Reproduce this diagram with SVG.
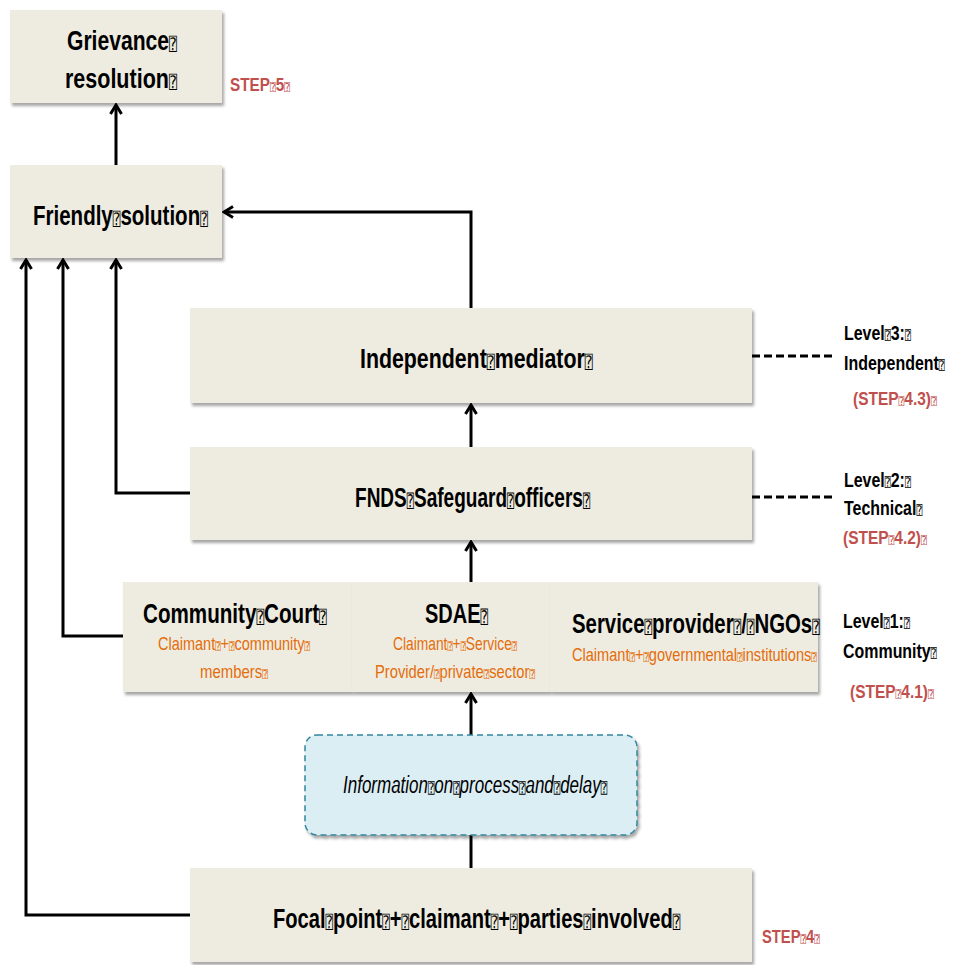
<svg xmlns="http://www.w3.org/2000/svg" width="953" height="965" viewBox="0 0 953 965">
<style>
.box{fill:#EEECE1;filter:url(#sh)}
.lbl{font-family:"Liberation Sans",Arial,sans-serif;font-weight:bold;fill:#000}
.big{font-size:28px}
.mid{font-size:21px}
.org{font-family:"Liberation Sans",Arial,sans-serif;font-size:18px;fill:#E46C0A}
.red{font-family:"Liberation Sans",Arial,sans-serif;font-weight:bold;font-size:18px;fill:#C0504D}
.ita{font-family:"Liberation Sans",Arial,sans-serif;font-style:italic;font-size:23px;fill:#000}
.tf{font-family:"DejaVu Sans Mono","DejaVu Sans",monospace;font-weight:normal;font-style:normal;font-size:0.62em}
.con{fill:none;stroke:#000;stroke-width:3}
.dash{fill:none;stroke:#000;stroke-width:3;stroke-dasharray:8 4}
</style>
<defs>
<filter id="sh" x="-5%" y="-5%" width="112%" height="120%">
<feDropShadow dx="2" dy="3" stdDeviation="1.5" flood-color="#000" flood-opacity="0.35"/>
</filter>
<marker id="ah" markerUnits="userSpaceOnUse" viewBox="0 0 14 14" markerWidth="14" markerHeight="14" refX="12" refY="7" orient="auto">
<path d="M3,1.5 L12,7 L3,12.5" fill="none" stroke="#000" stroke-width="3"/>
</marker>
</defs>

<g id="connectors">
<path class="con" d="M116,165 V105" marker-end="url(#ah)"/>
<path class="con" d="M471,308 V212 H224" marker-end="url(#ah)"/>
<path class="con" d="M471,447 V405" marker-end="url(#ah)"/>
<path class="con" d="M471,582 V542" marker-end="url(#ah)"/>
<path class="con" d="M471,735 V694" marker-end="url(#ah)"/>
<path class="con" d="M471,868 V835"/>
<path class="con" d="M190,493 H116 V260" marker-end="url(#ah)"/>
<path class="con" d="M123,636 H63 V260" marker-end="url(#ah)"/>
<path class="con" d="M190,915 H26 V260" marker-end="url(#ah)"/>
<path class="dash" d="M752,356 H833"/>
<path class="dash" d="M752,497 H833"/>
</g>

<g id="grievance">
<rect class="box" x="10" y="10" width="212" height="93"/>
<text class="lbl big" transform="translate(67 50) scale(0.754 1)">Grievance<tspan class="tf">⍰</tspan></text>
<text class="lbl big" transform="translate(65 88) scale(0.768 1)">resolution<tspan class="tf">⍰</tspan></text>
</g>
<g id="step5">
<text class="red" transform="translate(230 91) scale(0.85 1)">STEP<tspan class="tf">⍰</tspan>5<tspan class="tf">⍰</tspan></text>
</g>

<g id="friendly">
<rect class="box" x="10" y="165" width="212" height="93"/>
<text class="lbl big" transform="translate(33 225) scale(0.733 1)">Friendly<tspan class="tf">⍰</tspan>solution<tspan class="tf">⍰</tspan></text>
</g>

<g id="mediator">
<rect class="box" x="190" y="308" width="562" height="95"/>
<text class="lbl big" transform="translate(360 368) scale(0.762 1)">Independent<tspan class="tf">⍰</tspan>mediator<tspan class="tf">⍰</tspan></text>
</g>
<g id="level3">
<text class="lbl mid" transform="translate(844 340) scale(0.76 1)">Level<tspan class="tf">⍰</tspan>3:<tspan class="tf">⍰</tspan></text>
<text class="lbl mid" transform="translate(844 370) scale(0.76 1)">Independent<tspan class="tf">⍰</tspan></text>
<text class="red" transform="translate(853 405) scale(0.86 1)">(STEP<tspan class="tf">⍰</tspan>4.3)<tspan class="tf">⍰</tspan></text>
</g>

<g id="fnds">
<rect class="box" x="190" y="447" width="562" height="93"/>
<text class="lbl big" transform="translate(355 507) scale(0.68 1)">FNDS<tspan class="tf">⍰</tspan>Safeguard<tspan class="tf">⍰</tspan>officers<tspan class="tf">⍰</tspan></text>
</g>
<g id="level2">
<text class="lbl mid" transform="translate(844 487) scale(0.76 1)">Level<tspan class="tf">⍰</tspan>2:<tspan class="tf">⍰</tspan></text>
<text class="lbl mid" transform="translate(844 515) scale(0.76 1)">Technical<tspan class="tf">⍰</tspan></text>
<text class="red" transform="translate(843 544) scale(0.86 1)">(STEP<tspan class="tf">⍰</tspan>4.2)<tspan class="tf">⍰</tspan></text>
</g>

<g id="community-court">
<rect class="box" x="123" y="582" width="229" height="110"/>
<text class="lbl big" transform="translate(143 623) scale(0.737 1)">Community<tspan class="tf">⍰</tspan>Court<tspan class="tf">⍰</tspan></text>
<text class="org" transform="translate(158 650) scale(0.806 1)">Claimant<tspan class="tf">⍰</tspan>+<tspan class="tf">⍰</tspan>community<tspan class="tf">⍰</tspan></text>
<text class="org" transform="translate(200 678) scale(0.83 1)">members<tspan class="tf">⍰</tspan></text>
</g>
<g id="sdae">
<rect class="box" x="352" y="582" width="198" height="110"/>
<text class="lbl big" transform="translate(425 623) scale(0.714 1)">SDAE<tspan class="tf">⍰</tspan></text>
<text class="org" transform="translate(393 650) scale(0.767 1)">Claimant<tspan class="tf">⍰</tspan>+<tspan class="tf">⍰</tspan>Service<tspan class="tf">⍰</tspan></text>
<text class="org" transform="translate(375 678) scale(0.82 1)">Provider/<tspan class="tf">⍰</tspan>private<tspan class="tf">⍰</tspan>sector<tspan class="tf">⍰</tspan></text>
</g>
<g id="service-provider">
<rect class="box" x="550" y="582" width="268" height="110"/>
<text class="lbl big" transform="translate(572 633) scale(0.728 1)">Service<tspan class="tf">⍰</tspan>provider<tspan class="tf">⍰</tspan>/<tspan class="tf">⍰</tspan>NGOs<tspan class="tf">⍰</tspan></text>
<text class="org" transform="translate(572 661) scale(0.81 1)">Claimant<tspan class="tf">⍰</tspan>+<tspan class="tf">⍰</tspan>governmental<tspan class="tf">⍰</tspan>institutions<tspan class="tf">⍰</tspan></text>
</g>
<g id="level1">
<text class="lbl mid" transform="translate(843 628) scale(0.76 1)">Level<tspan class="tf">⍰</tspan>1:<tspan class="tf">⍰</tspan></text>
<text class="lbl mid" transform="translate(843 658) scale(0.76 1)">Community<tspan class="tf">⍰</tspan></text>
<text class="red" transform="translate(850 698) scale(0.86 1)">(STEP<tspan class="tf">⍰</tspan>4.1)<tspan class="tf">⍰</tspan></text>
</g>

<g id="information">
<rect x="305" y="735" width="332" height="100" rx="12" fill="#DBEEF4" stroke="#31859C" stroke-width="1.5" stroke-dasharray="6 4" filter="url(#sh)"/>
<text class="ita" transform="translate(343 793) scale(0.739 1)">Information<tspan class="tf">⍰</tspan>on<tspan class="tf">⍰</tspan>process<tspan class="tf">⍰</tspan>and<tspan class="tf">⍰</tspan>delay<tspan class="tf">⍰</tspan></text>
</g>

<g id="focal-point">
<rect class="box" x="190" y="868" width="562" height="94"/>
<text class="lbl big" transform="translate(273 928) scale(0.719 1)">Focal<tspan class="tf">⍰</tspan>point<tspan class="tf">⍰</tspan>+<tspan class="tf">⍰</tspan>claimant<tspan class="tf">⍰</tspan>+<tspan class="tf">⍰</tspan>parties<tspan class="tf">⍰</tspan>involved<tspan class="tf">⍰</tspan></text>
</g>
<g id="step4">
<text class="red" transform="translate(762 943) scale(0.82 1)">STEP<tspan class="tf">⍰</tspan>4<tspan class="tf">⍰</tspan></text>
</g>
</svg>
